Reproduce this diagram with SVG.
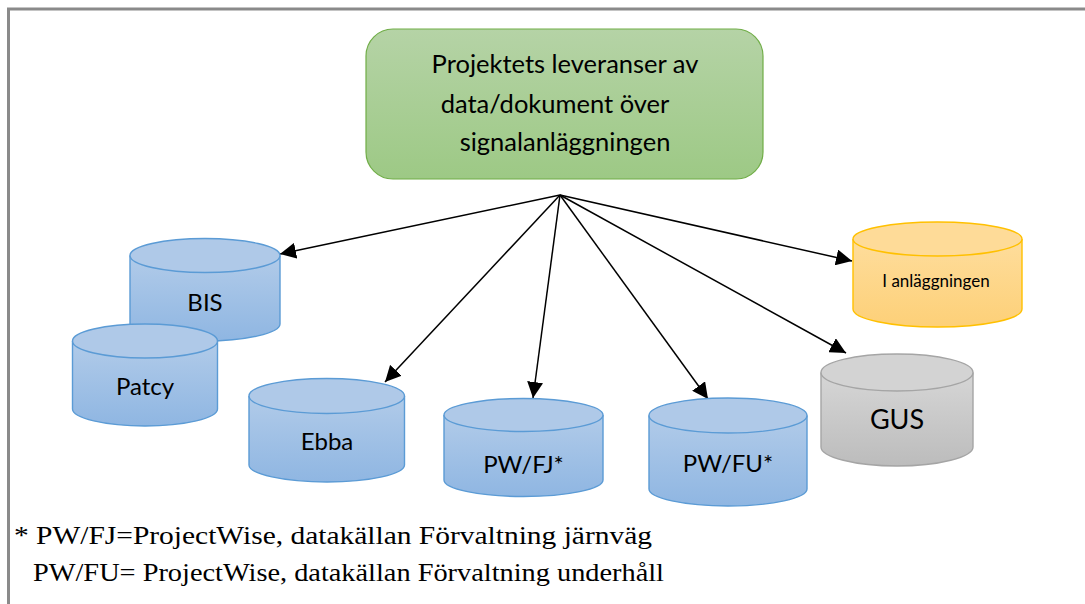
<svg xmlns="http://www.w3.org/2000/svg" width="1085" height="604" viewBox="0 0 1085 604">
<style>
.lbl{font-family:"Lato","Open Sans",sans-serif;fill:#000;text-anchor:middle}
.note{font-family:"Liberation Serif","DejaVu Serif",serif;font-size:25px;fill:#000}
.conn{stroke:#000;stroke-width:1.5;fill:none;marker-end:url(#ah)}
.blue{fill:url(#gb);stroke:#5b9bd5;stroke-width:1.4}.blue .top{fill:#afc9e8}
.org{fill:url(#go);stroke:#ffc000;stroke-width:1.4}.org .top{fill:#fedb98}
.gry{fill:url(#gg);stroke:#a5a5a5;stroke-width:1.4}.gry .top{fill:#d3d3d3}
</style>
<defs>
<linearGradient id="gr" x1="0" y1="0" x2="0" y2="1"><stop offset="0" stop-color="#b5d3a6"/><stop offset="1" stop-color="#9dc985"/></linearGradient>
<linearGradient id="gb" x1="0" y1="0" x2="0" y2="1"><stop offset="0" stop-color="#b1cbe9"/><stop offset="1" stop-color="#8fb6e2"/></linearGradient>
<linearGradient id="go" x1="0" y1="0" x2="0" y2="1"><stop offset="0" stop-color="#fedd9c"/><stop offset="1" stop-color="#fdd078"/></linearGradient>
<linearGradient id="gg" x1="0" y1="0" x2="0" y2="1"><stop offset="0" stop-color="#d6d6d6"/><stop offset="1" stop-color="#bcbcbc"/></linearGradient>
<marker id="ah" markerUnits="userSpaceOnUse" markerWidth="18" markerHeight="16" refX="16" refY="8" orient="auto"><path d="M0,0L16,8L0,16Z" fill="#000"/></marker>
</defs>
<rect width="1085" height="604" fill="#fff"/>
<path d="M1085,9H8.500V604" fill="none" stroke="#8a8a8a" stroke-width="3"/>
<g id="connectors">
<line class="conn" x1="560" y1="195" x2="280" y2="254"/>
<line class="conn" x1="560" y1="195" x2="385" y2="382"/>
<line class="conn" x1="560" y1="195" x2="533" y2="398"/>
<line class="conn" x1="560" y1="195" x2="708" y2="399"/>
<line class="conn" x1="560" y1="195" x2="846" y2="353"/>
<line class="conn" x1="560" y1="195" x2="852" y2="261"/>
</g>
<g id="projekt">
<rect x="366" y="29" width="397" height="150" rx="27" fill="url(#gr)" stroke="#70ad47" stroke-width="1.2"/>
<text class="lbl" font-size="25.500" x="565" y="73">Projektets leveranser av</text>
<text class="lbl" font-size="25.500" x="555" y="113">data/dokument över</text>
<text class="lbl" font-size="25.500" x="565" y="151">signalanläggningen</text>
</g>
<g id="bis" class="blue">
<path d="M130,255.500V324C130,333 164,341 205,341S280,333 280,324V255.500"/>
<ellipse class="top" cx="205" cy="255.500" rx="75" ry="17"/>
<text class="lbl" font-size="24" x="205" y="311" stroke="none">BIS</text>
</g>
<g id="patcy" class="blue">
<path d="M72.500,341V409C72.500,418 105,426 145,426S217.500,418 217.500,409V341"/>
<ellipse class="top" cx="145" cy="341" rx="72.500" ry="17"/>
<text class="lbl" font-size="24" x="145" y="395" stroke="none">Patcy</text>
</g>
<g id="ebba" class="blue">
<path d="M249,396V465C249,474 284,482 327,482S404.500,474 404.500,465V396"/>
<ellipse class="top" cx="326.750" cy="396" rx="77.750" ry="17.500"/>
<text class="lbl" font-size="24" x="327" y="450" stroke="none">Ebba</text>
</g>
<g id="pwfj" class="blue">
<path d="M444,415V480C444,489 480,496.500 523.500,496.500S603,489 603,480V415"/>
<ellipse class="top" cx="523.500" cy="415" rx="79.500" ry="16.500"/>
<text class="lbl" font-size="24" x="523.500" y="473" stroke="none">PW/FJ*</text>
</g>
<g id="pwfu" class="blue">
<path d="M649,415.500V489C649,498 684,506 728,506S807,498 807,489V415.500"/>
<ellipse class="top" cx="728" cy="415.500" rx="79" ry="17.500"/>
<text class="lbl" font-size="24" x="728" y="472" stroke="none">PW/FU*</text>
</g>
<g id="anlaggningen" class="org">
<path d="M853,239V309C853,319 891,327 937.500,327S1022,319 1022,309V239"/>
<ellipse class="top" cx="937.500" cy="239" rx="84.500" ry="17"/>
<text class="lbl" font-size="17" x="936" y="287" stroke="none">I anläggningen</text>
</g>
<g id="gus" class="gry">
<path d="M821,372.500V447C821,457 855,466 897,466S973,457 973,447V372.500"/>
<ellipse class="top" cx="897" cy="372.500" rx="76" ry="18.500"/>
<text class="lbl" font-size="27" x="897" y="429" stroke="none">GUS</text>
</g>
<text class="note" x="14" y="544" textLength="638" lengthAdjust="spacingAndGlyphs">* PW/FJ=ProjectWise, datakällan Förvaltning järnväg</text>
<text class="note" x="33" y="581" textLength="631" lengthAdjust="spacingAndGlyphs">PW/FU= ProjectWise, datakällan Förvaltning underhåll</text>
</svg>
